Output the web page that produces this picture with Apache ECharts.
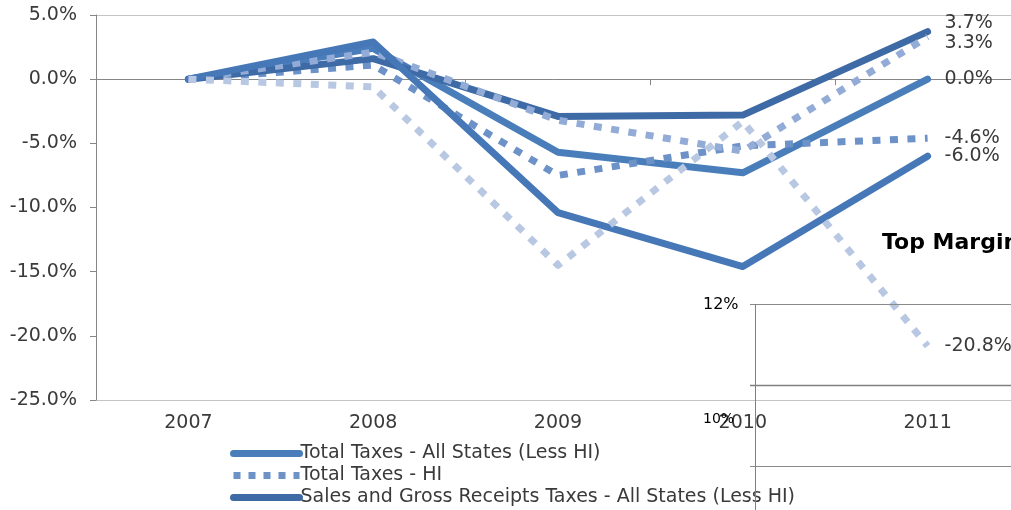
<!DOCTYPE html>
<html>
<head>
<meta charset="utf-8">
<script src="https://cdn.jsdelivr.net/npm/echarts@6/dist/echarts.min.js"></script>
<style>
  html, body { margin: 0; padding: 0; background: #fff; }
  #chart { width: 1011px; height: 510px; }
</style>
</head>
<body>
<div id="chart"></div>
<script>
// Year-over-year change in state tax collections (%)
const years = ['2007', '2008', '2009', '2010', '2011'];
const yTicks = { min: -25, max: 5, step: 5 };

const totalAll  = [0, 2.4, -5.7, -7.3, 0.0];
const totalHI   = [0, 1.1, -7.5, -5.2, -4.6];
const salesAll  = [0, 1.6, -2.9, -2.8, 3.7];
const salesHI   = [0, 2.1, -3.2, -5.6, 3.3];
const incomeAll = [0, 2.9, -10.4, -14.6, -6.0];
const incomeHI  = [0, -0.6, -14.5, -3.3, -20.8];

const names = [
  'Total Taxes - All States (Less HI)',
  'Total Taxes - HI',
  'Sales and Gross Receipts Taxes - All States (Less HI)',
  'Sales and Gross Receipts Taxes - HI',
  'Individual Income Taxes - All States (Less HI)',
  'Individual Income Taxes - HI'
];

const FONT = 'DejaVu Sans';
const TEXT = '#3a3a3a';
const AXIS = '#868686';
const FRAME = '#c4c4c4';
const DOT = [8, 9.5];

function lineSeries(name, data, color, dotted, offset) {
  return {
    name: name,
    type: 'line',
    data: data,
    symbol: 'none',
    xAxisIndex: 0,
    yAxisIndex: 0,
    lineStyle: {
      color: color,
      width: 7,
      type: dotted ? DOT : 'solid',
      cap: dotted ? 'butt' : 'round',
      join: 'round'
    },
    itemStyle: { color: color },
    endLabel: {
      show: true,
      distance: 17,
      offset: offset || [0, 0],
      fontFamily: FONT,
      fontSize: 19,
      color: TEXT,
      formatter: p => Number(p.value).toFixed(1) + '%'
    },
    emphasis: { disabled: true },
    animation: false
  };
}

// frame lines only at the top (5%) and bottom (-25%) of the value range
const nLines = Math.round((yTicks.max - yTicks.min) / yTicks.step) + 1;
const frameColors = Array.from({ length: nLines }, (_, i) =>
  (i === 0 || i === nLines - 1) ? FRAME : 'rgba(0,0,0,0)');

const chart = echarts.init(document.getElementById('chart'), null, { renderer: 'canvas' });

chart.setOption({
  animation: false,
  grid: {
    left: 96, right: -9, top: 15, bottom: 110,
    show: false,
    containLabel: false,
    outerBoundsMode: 'none'
  },
  xAxis: [
    {
      type: 'category',
      data: years,
      position: 'bottom',
      boundaryGap: true,
      axisLine: { show: false, onZero: false },
      axisTick: { show: false },
      axisLabel: { fontFamily: FONT, fontSize: 19, color: TEXT, margin: 14 },
      splitLine: { show: false }
    },
    {
      type: 'category',
      data: years,
      position: 'top',
      boundaryGap: true,
      axisLine: { show: true, onZero: true, lineStyle: { color: AXIS, width: 1 } },
      axisTick: { show: true, inside: true, length: 6, lineStyle: { color: AXIS } },
      axisLabel: { show: false },
      splitLine: { show: false }
    }
  ],
  yAxis: {
    type: 'value',
    min: yTicks.min,
    max: yTicks.max,
    interval: yTicks.step,
    axisLine: { show: true, lineStyle: { color: AXIS, width: 1 } },
    axisTick: { show: true, length: 6, lineStyle: { color: AXIS } },
    axisLabel: {
      fontFamily: FONT, fontSize: 19, color: TEXT, margin: 19,
      formatter: v => v.toFixed(1) + '%'
    },
    splitLine: { show: true, lineStyle: { color: frameColors, width: 1 } }
  },
  legend: {
    orient: 'vertical',
    left: 230,
    top: 444,
    itemWidth: 66,
    itemHeight: 8,
    itemGap: 3,
    padding: 0,
    selectedMode: false,
    textStyle: { fontFamily: FONT, fontSize: 19, color: TEXT, padding: [0, 0, 0, -4] },
    itemStyle: { opacity: 0 },
    data: [
      { name: names[0], lineStyle: { width: 7, cap: 'round', type: 'solid' } },
      { name: names[1], lineStyle: { width: 7, cap: 'butt', type: [7, 8] } },
      { name: names[2], lineStyle: { width: 7, cap: 'round', type: 'solid' } }
    ]
  },
  graphic: [
    { type: 'line', z: 50, shape: { x1: 750, y1: 304.5, x2: 1011, y2: 304.5 }, style: { stroke: '#8a8a8a', lineWidth: 1 } },
    { type: 'line', z: 50, shape: { x1: 750, y1: 385.5, x2: 1011, y2: 385.5 }, style: { stroke: '#808080', lineWidth: 1.5 } },
    { type: 'line', z: 50, shape: { x1: 750, y1: 466.5, x2: 1011, y2: 466.5 }, style: { stroke: '#8a8a8a', lineWidth: 1 } },
    { type: 'line', z: 50, shape: { x1: 755.5, y1: 304, x2: 755.5, y2: 510 }, style: { stroke: '#808080', lineWidth: 1 } },
    { type: 'text', z: 50, left: 703, top: 297, style: { text: '12%', fontFamily: FONT, fontSize: 16, fill: '#000' } },
    { type: 'text', z: 50, left: 703, top: 412, style: { text: '10%', fontFamily: FONT, fontSize: 14, fill: '#000' } },
    { type: 'text', z: 50, left: 882, top: 232, style: { text: 'Top Margin', fontFamily: FONT, fontSize: 22, fontWeight: 'bold', fill: '#000' } }
  ],
  series: [
    lineSeries(names[0], totalAll, '#4a7ebb', false),
    lineSeries(names[1], totalHI, '#6d92c8', true),
    lineSeries(names[2], salesAll, '#3e6aa5', false, [0, -9]),
    lineSeries(names[3], salesHI, '#93acd7', true, [0, 6]),
    lineSeries(names[4], incomeAll, '#4677b7', false),
    lineSeries(names[5], incomeHI, '#b8c7e2', true)
  ]
});
</script>
</body>
</html>
